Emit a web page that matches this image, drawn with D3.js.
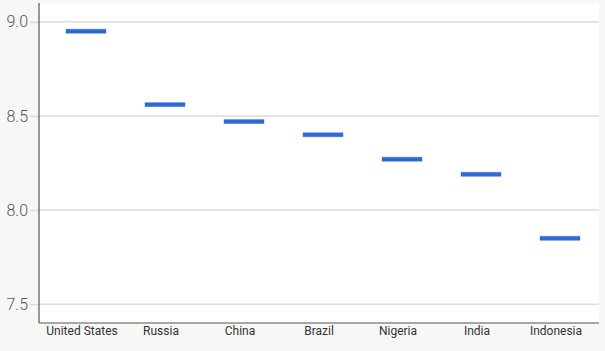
<!DOCTYPE html>
<html>
<head>
<meta charset="utf-8">
<script src="https://cdn.jsdelivr.net/npm/d3@7"></script>
<style>
  html, body { margin: 0; padding: 0; background: #f7f7f5; }
  svg { display: block; }
</style>
</head>
<body>
<div id="chart"></div>
<script>
const categories = ['United States', 'Russia', 'China', 'Brazil', 'Nigeria', 'India', 'Indonesia'];
const values = [8.95, 8.56, 8.47, 8.40, 8.27, 8.19, 7.85];
const yTicks = [7.5, 8.0, 8.5, 9.0];

const width = 605, height = 351;
const plot = { left: 39, right: 599, top: 3, bottom: 323 };

const svg = d3.select('#chart').append('svg')
  .attr('width', width)
  .attr('height', height);

// plot background
svg.append('rect')
  .attr('x', plot.left)
  .attr('y', plot.top)
  .attr('width', plot.right - plot.left)
  .attr('height', plot.bottom - plot.top)
  .attr('fill', '#ffffff');

const x = d3.scaleBand()
  .domain(categories)
  .range([46.5, 599.5])
  .padding(0);

const y = d3.scaleLinear()
  .domain([7.4, 9.1])
  .range([plot.bottom, plot.top]);

// gridlines + ticks
const yAxis = svg.append('g')
  .attr('transform', `translate(${plot.left},0)`)
  .call(d3.axisLeft(y).tickValues(yTicks).tickFormat(d3.format('.1f')).tickSize(9).tickPadding(2));
yAxis.select('.domain').remove();
yAxis.selectAll('.tick line')
  .attr('stroke', '#dcdcdc')
  .attr('stroke-width', 1.5);
yAxis.selectAll('.tick text')
  .attr('fill', '#555')
  .style('font-family', 'Roboto, "Liberation Sans", Arial, sans-serif')
  .style('font-weight', '300')
  .style('font-size', '16px');

svg.append('g')
  .selectAll('line')
  .data(yTicks)
  .enter()
  .append('line')
  .attr('x1', plot.left)
  .attr('x2', plot.right)
  .attr('y1', d => y(d))
  .attr('y2', d => y(d))
  .attr('stroke', '#dcdcdc')
  .attr('stroke-width', 1.5);

// x axis labels
const xAxis = svg.append('g')
  .attr('transform', `translate(0,${plot.bottom})`)
  .call(d3.axisBottom(x).tickSize(0).tickPadding(3));
xAxis.select('.domain').remove();
xAxis.selectAll('.tick text')
  .attr('dx', -4)
  .attr('fill', '#333')
  .style('font-family', 'Roboto, "Liberation Sans", Arial, sans-serif')
  .style('font-size', '12px');

// axis lines
svg.append('line')
  .attr('x1', plot.left).attr('x2', plot.left)
  .attr('y1', plot.top).attr('y2', plot.bottom)
  .attr('stroke', '#555').attr('stroke-width', 1.2);
svg.append('line')
  .attr('x1', plot.left).attr('x2', plot.right)
  .attr('y1', plot.bottom).attr('y2', plot.bottom)
  .attr('stroke', '#555').attr('stroke-width', 1.2);

// value markers
const barW = 40;
svg.append('g')
  .selectAll('rect')
  .data(categories)
  .enter()
  .append('rect')
  .attr('x', d => x(d) + x.bandwidth() / 2 - barW / 2)
  .attr('y', (d, i) => y(values[i]) - 2)
  .attr('width', barW)
  .attr('height', 4)
  .attr('fill', '#2d6bd2')
  .attr('stroke', '#2d6bd2')
  .attr('stroke-opacity', 0.4)
  .attr('stroke-width', 1);
</script>
</body>
</html>
